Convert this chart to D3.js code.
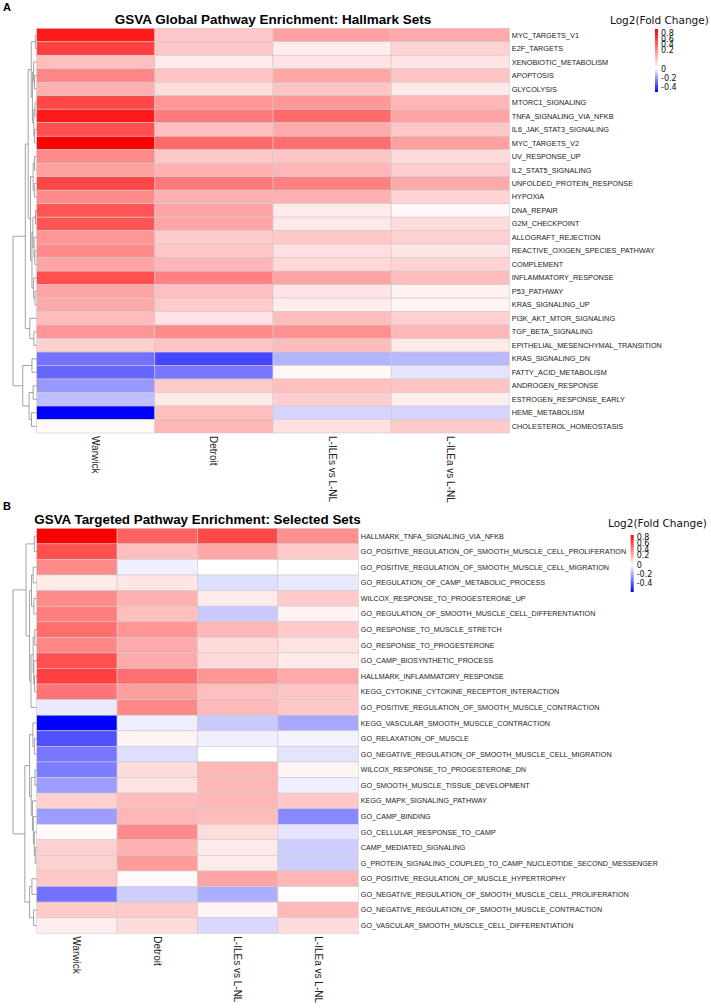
<!DOCTYPE html>
<html><head><meta charset="utf-8">
<script src="https://cdn.jsdelivr.net/npm/d3@7"></script>
<style>body{margin:0;background:#fff}svg{display:block}</style>
</head><body>
<svg id="chart" width="711" height="1008"></svg>
<script>
// ---------------- DATA ----------------
const columns = ["Warwick", "Detroit", "L-ILEs vs L-NL", "L-ILEa vs L-NL"];

const pathwaysA = ["MYC_TARGETS_V1","E2F_TARGETS","XENOBIOTIC_METABOLISM","APOPTOSIS","GLYCOLYSIS","MTORC1_SIGNALING","TNFA_SIGNALING_VIA_NFKB","IL6_JAK_STAT3_SIGNALING","MYC_TARGETS_V2","UV_RESPONSE_UP","IL2_STAT5_SIGNALING","UNFOLDED_PROTEIN_RESPONSE","HYPOXIA","DNA_REPAIR","G2M_CHECKPOINT","ALLOGRAFT_REJECTION","REACTIVE_OXIGEN_SPECIES_PATHWAY","COMPLEMENT","INFLAMMATORY_RESPONSE","P53_PATHWAY","KRAS_SIGNALING_UP","PI3K_AKT_MTOR_SIGNALING","TGF_BETA_SIGNALING","EPITHELIAL_MESENCHYMAL_TRANSITION","KRAS_SIGNALING_DN","FATTY_ACID_METABOLISM","ANDROGEN_RESPONSE","ESTROGEN_RESPONSE_EARLY","HEME_METABOLISM","CHOLESTEROL_HOMEOSTASIS"];
const warwickA = [0.78,0.65,0.22,0.41,0.27,0.62,0.78,0.60,0.87,0.40,0.32,0.63,0.40,0.58,0.58,0.36,0.40,0.31,0.60,0.31,0.29,0.23,0.36,0.16,-0.26,-0.28,-0.19,-0.12,-0.47,0.02];
const detroitA = [0.19,0.19,0.07,0.20,0.12,0.36,0.45,0.22,0.51,0.19,0.27,0.45,0.27,0.31,0.30,0.18,0.19,0.25,0.43,0.22,0.18,0.10,0.40,0.20,-0.34,-0.25,0.18,0.07,0.22,0.25];
const ilesA    = [0.32,0.06,0.10,0.30,0.20,0.35,0.51,0.29,0.49,0.20,0.25,0.43,0.27,0.07,0.08,0.19,0.11,0.13,0.31,0.09,0.06,0.23,0.38,0.23,-0.14,0.03,0.22,0.17,-0.08,0.11];
const ileaA    = [0.29,0.15,0.09,0.20,0.08,0.25,0.31,0.19,0.32,0.12,0.17,0.29,0.15,0.03,0.12,0.16,0.09,0.15,0.23,0.05,0.04,0.16,0.25,0.07,-0.13,-0.05,0.20,0.06,-0.08,0.18];
// dendrogram: [left, right, height]; leaves are row indices
const treeA = [
  [
    [
      [[0,1,0.6],[[2,[3,4,0.9],1.3],[[5,6,0.7],[7,8,0.9],1.2],1.8],2.3],
      [[[9,10,0.9],[11,12,1.0],1.5],[[[13,14,0.5],[15,[16,17,0.8],1.1],1.6],[18,[19,20,0.7],1.3],2.0],2.6],
      3.6],
    [21,[22,23,1.2],2.9],
    4.8],
  [[24,25,2.0],[[26,27,1.5],[28,29,2.2],3.2],5.9],
  10];

const pathwaysB = ["HALLMARK_TNFA_SIGNALING_VIA_NFKB","GO_POSITIVE_REGULATION_OF_SMOOTH_MUSCLE_CELL_PROLIFERATION","GO_POSITIVE_REGULATION_OF_SMOOTH_MUSCLE_CELL_MIGRATION","GO_REGULATION_OF_CAMP_METABOLIC_PROCESS","WILCOX_RESPONSE_TO_PROGESTERONE_UP","GO_REGULATION_OF_SMOOTH_MUSCLE_CELL_DIFFERENTIATION","GO_RESPONSE_TO_MUSCLE_STRETCH","GO_RESPONSE_TO_PROGESTERONE","GO_CAMP_BIOSYNTHETIC_PROCESS","HALLMARK_INFLAMMATORY_RESPONSE","KEGG_CYTOKINE_CYTOKINE_RECEPTOR_INTERACTION","GO_POSITIVE_REGULATION_OF_SMOOTH_MUSCLE_CONTRACTION","KEGG_VASCULAR_SMOOTH_MUSCLE_CONTRACTION","GO_RELAXATION_OF_MUSCLE","GO_NEGATIVE_REGULATION_OF_SMOOTH_MUSCLE_CELL_MIGRATION","WILCOX_RESPONSE_TO_PROGESTERONE_DN","GO_SMOOTH_MUSCLE_TISSUE_DEVELOPMENT","KEGG_MAPK_SIGNALING_PATHWAY","GO_CAMP_BINDING","GO_CELLULAR_RESPONSE_TO_CAMP","CAMP_MEDIATED_SIGNALING","G_PROTEIN_SIGNALING_COUPLED_TO_CAMP_NUCLEOTIDE_SECOND_MESSENGER","GO_POSITIVE_REGULATION_OF_MUSCLE_HYPERTROPHY","GO_NEGATIVE_REGULATION_OF_SMOOTH_MUSCLE_CELL_PROLIFERATION","GO_NEGATIVE_REGULATION_OF_SMOOTH_MUSCLE_CONTRACTION","GO_VASCULAR_SMOOTH_MUSCLE_CELL_DIFFERENTIATION"];
const warwickB = [0.87,0.60,0.40,0.07,0.40,0.44,0.49,0.41,0.60,0.65,0.47,-0.04,-0.47,-0.32,-0.25,-0.24,-0.18,0.16,-0.18,0.02,0.16,0.16,0.19,-0.26,0.18,0.06];
const detroitB = [0.54,0.22,-0.03,0.09,0.27,0.22,0.36,0.29,0.29,0.49,0.33,0.41,-0.03,0.04,-0.06,0.12,0.10,0.23,0.25,0.40,0.27,0.34,0.02,-0.09,0.18,0.12];
const ilesB    = [0.62,0.30,0.00,-0.06,0.07,-0.10,0.25,0.12,0.13,0.36,0.22,0.24,-0.10,-0.03,0.00,0.25,0.25,0.25,0.23,0.12,0.07,0.07,0.31,-0.15,0.04,-0.07];
const ileaB    = [0.38,0.18,0.00,-0.04,0.18,0.04,0.18,0.10,0.07,0.29,0.20,0.19,-0.16,-0.02,-0.05,0.04,-0.03,0.19,-0.22,-0.05,-0.09,-0.09,0.25,0.01,0.24,0.12];
const treeB = [
  [[0,1,1.0],[[[2,3,1.5],[4,5,1.2],2.2],[[[6,7,0.8],[8,[9,10,0.9],1.2],1.5],11,2.4],3.0],4.5],
  [[[12,[13,14,1.0],1.6],[[15,16,0.7],[17,[18,[19,[20,21,0.6],1.0],1.4],1.8],2.3],3.0],
   [[22,23,2.0],[24,25,1.3],3.0],5.0],
  10];

const legendTicks = [0.8, 0.6, 0.4, 0.2, 0, -0.2, -0.4];
const colorDomain = [-0.47, 0, 0.87];
const colorRange = ["#0000FF", "#FFFFFF", "#FF0000"];

// ---------------- DRAW ----------------
const svg = d3.select("#chart");
svg.append("rect").attr("width", 711).attr("height", 1008).attr("fill", "#fff");
const color = d3.scaleLinear().domain(colorDomain).range(colorRange).clamp(true);

function panel(cfg) {
  const g = svg.append("g");
  const series = cfg.series;
  const x = d3.scaleBand().domain(columns).range([cfg.left, cfg.right]);
  const y = d3.scaleBand().domain(d3.range(cfg.rows.length)).range([cfg.top, cfg.bottom]);

  g.append("text").attr("x", 3).attr("y", cfg.letterY).text(cfg.letter)
    .attr("font-family", "Liberation Sans, Arial, sans-serif").attr("font-weight", "bold")
    .attr("font-size", 11).attr("fill", "#000");
  g.append("text").attr("x", (cfg.left + cfg.right) / 2).attr("y", cfg.titleY)
    .attr("text-anchor", "middle").text(cfg.title)
    .attr("font-family", "Liberation Sans, Arial, sans-serif").attr("font-weight", "bold")
    .attr("font-size", cfg.titleSize).attr("fill", "#000");

  const cells = [];
  series.forEach((vals, ci) => vals.forEach((v, ri) => cells.push({c: columns[ci], r: ri, v})));
  g.append("g").selectAll("rect").data(cells).join("rect")
    .attr("x", d => x(d.c)).attr("y", d => y(d.r))
    .attr("width", x.bandwidth()).attr("height", y.bandwidth())
    .attr("fill", d => color(d.v)).attr("stroke", "#cfc8c8").attr("stroke-width", 0.6);

  g.append("g").selectAll("text").data(cfg.rows).join("text")
    .attr("x", cfg.right + 2.5).attr("y", (d, i) => y(i) + y.bandwidth() / 2)
    .attr("dy", "0.35em").text(d => d)
    .attr("font-family", "Liberation Sans, Arial, sans-serif")
    .attr("font-size", cfg.rowFont).attr("fill", "#222");

  g.append("g").selectAll("text").data(columns).join("text")
    .attr("transform", d => `translate(${x(d) + x.bandwidth() / 2},${cfg.bottom + 3}) rotate(90)`)
    .attr("dy", "0.35em").text(d => d)
    .attr("font-family", "Liberation Sans, Arial, sans-serif")
    .attr("font-size", 10).attr("fill", "#222");

  const hx = d3.scaleLinear().domain([0, cfg.tree[2]]).range([cfg.left, 13]);
  const paths = [];
  function walk(node) {
    if (typeof node === "number") return {y: y(node) + y.bandwidth() / 2, h: 0};
    const a = walk(node[0]), b = walk(node[1]), h = node[2];
    paths.push(`M${hx(a.h)},${a.y}H${hx(h)}V${b.y}H${hx(b.h)}`);
    return {y: (a.y + b.y) / 2, h};
  }
  walk(cfg.tree);
  g.append("g").selectAll("path").data(paths).join("path")
    .attr("d", d => d).attr("fill", "none").attr("stroke", "#8c8c8c").attr("stroke-width", 0.8);

  const L = cfg.legend;
  g.append("text").attr("x", L.titleX).attr("y", L.titleY).text("Log2(Fold Change)")
    .attr("font-family", "DejaVu Sans, Verdana, sans-serif").attr("font-size", 10.5).attr("fill", "#111");
  const ly = d3.scaleLinear().domain([-0.4, 0, 0.2, 0.8]).range(L.tickY);
  const gid = "grad" + cfg.letter;
  const grad = svg.append("defs").append("linearGradient").attr("id", gid)
    .attr("x1", 0).attr("x2", 0).attr("y1", 0).attr("y2", 1);
  const zeroOff = (L.zeroY - L.barTop) / (L.barBottom - L.barTop);
  grad.append("stop").attr("offset", 0).attr("stop-color", colorRange[2]);
  grad.append("stop").attr("offset", zeroOff).attr("stop-color", colorRange[1]);
  grad.append("stop").attr("offset", 1).attr("stop-color", colorRange[0]);
  g.append("rect").attr("x", L.barX).attr("y", L.barTop).attr("width", 3)
    .attr("height", L.barBottom - L.barTop).attr("fill", `url(#${gid})`);
  g.append("g").selectAll("text").data(legendTicks).join("text")
    .attr("x", L.barX + 6).attr("y", d => ly(d)).attr("dy", "0.35em")
    .text(d => String(d))
    .attr("font-family", "DejaVu Sans, Verdana, sans-serif").attr("font-size", 8).attr("fill", "#111");
}

panel({
  letter: "A", letterY: 11, title: "GSVA Global Pathway Enrichment: Hallmark Sets", titleY: 24, titleSize: 13.5,
  left: 36.7, right: 509.3, top: 28.3, bottom: 433, rows: pathwaysA,
  series: [warwickA, detroitA, ilesA, ileaA], rowFont: 7.3, tree: treeA,
  legend: {titleX: 610, titleY: 24, barX: 655, barTop: 29, barBottom: 92, zeroY: 68,
           tickY: [87.5, 69, 50, 33.3]}
});
panel({
  letter: "B", letterY: 510, title: "GSVA Targeted Pathway Enrichment: Selected Sets", titleY: 524, titleSize: 13.4,
  left: 36.7, right: 358.3, top: 528.3, bottom: 933.3, rows: pathwaysB,
  series: [warwickB, detroitB, ilesB, ileaB], rowFont: 7.2, tree: treeB,
  legend: {titleX: 608, titleY: 527, barX: 630.7, barTop: 535, barBottom: 592, zeroY: 565,
           tickY: [583.3, 565, 555, 537.3]}
});
</script>
</body></html>
